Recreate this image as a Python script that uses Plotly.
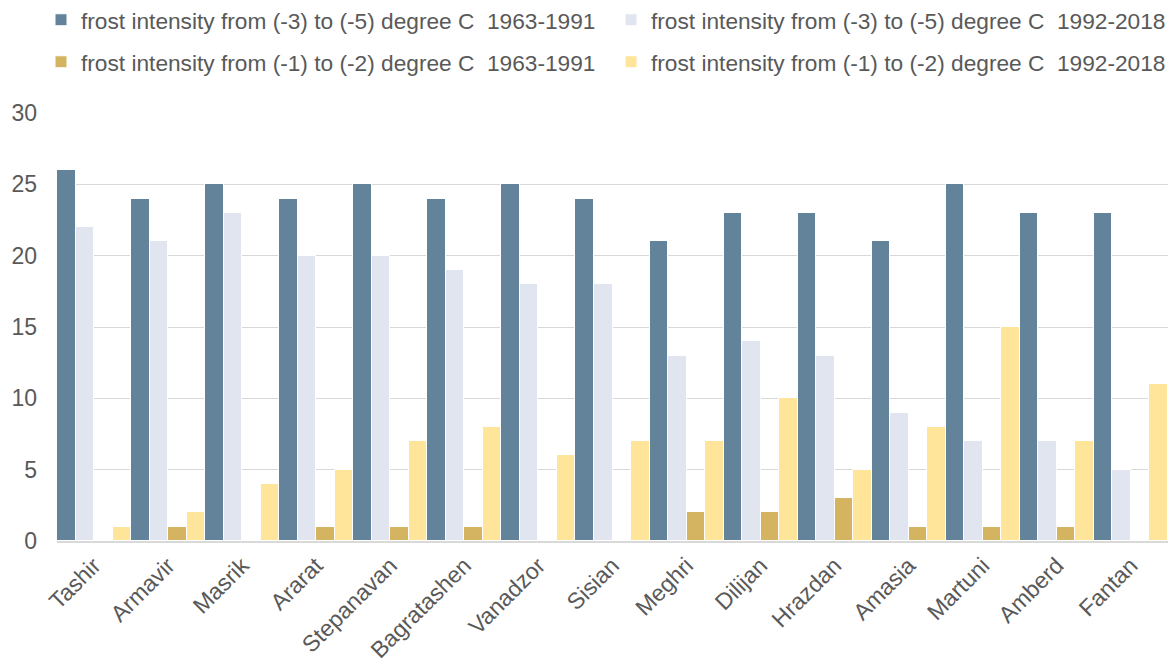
import plotly.graph_objects as go

stations = ["Tashir", "Armavir", "Masrik", "Ararat", "Stepanavan", "Bagratashen",
            "Vanadzor", "Sisian", "Meghri", "Dilijan", "Hrazdan", "Amasia",
            "Martuni", "Amberd", "Fantan"]

strong_1963_1991 = [26, 24, 25, 24, 25, 24, 25, 24, 21, 23, 23, 21, 25, 23, 23]
strong_1992_2018 = [22, 21, 23, 20, 20, 19, 18, 18, 13, 14, 13, 9, 7, 7, 5]
mild_1963_1991 = [0, 1, 0, 1, 1, 1, 0, 0, 2, 2, 3, 1, 1, 1, 0]
mild_1992_2018 = [1, 2, 4, 5, 7, 8, 6, 7, 7, 10, 5, 8, 15, 7, 11]

# (label, values, colour, legend id, legend left px, legend row centre px)
series = [
    ("frost intensity from (-3) to (-5) degree C  1963-1991", strong_1963_1991, "#63839B", "legend", 41, 20),
    ("frost intensity from (-3) to (-5) degree C  1992-2018", strong_1992_2018, "#E1E5F0", "legend2", 611, 20),
    ("frost intensity from (-1) to (-2) degree C  1963-1991", mild_1963_1991, "#D4B460", "legend3", 41, 62),
    ("frost intensity from (-1) to (-2) degree C  1992-2018", mild_1992_2018, "#FFE599", "legend4", 611, 62),
]

W, H = 1175, 670
FONT = "Liberation Sans, Arial, sans-serif"
GREY = "#595959"
SIZE = 23

fig = go.Figure()
legends = {}
for name, vals, color, leg, lx, ly in series:
    fig.add_trace(go.Bar(
        x=stations, y=vals, name=name, showlegend=True,
        marker=dict(color=color, line=dict(color="white", width=1)),
        legend=leg,
    ))
    legends[leg] = dict(
        orientation="h", xanchor="left", yanchor="middle",
        xref="container", yref="container",
        x=lx / W, y=1 - ly / H,
        font=dict(family=FONT, size=22.7, color=GREY),
        itemwidth=30, bgcolor="rgba(0,0,0,0)",
    )

fig.update_layout(
    width=W, height=H, showlegend=True,
    margin=dict(l=57, r=7, t=113, b=127),
    barmode="group", bargap=0.0, bargroupgap=0.0,
    plot_bgcolor="white", paper_bgcolor="white",
    font=dict(family=FONT, color=GREY),
    xaxis=dict(
        tickangle=-45, tickfont=dict(size=SIZE, color=GREY),
        showline=True, linecolor="#D9D9D9", linewidth=2,
        ticks="", showgrid=False,
    ),
    yaxis=dict(
        range=[0, 30], dtick=5, tickfont=dict(size=SIZE, color=GREY),
        showgrid=True, gridcolor="#D9D9D9", gridwidth=1,
        zeroline=False, ticks="", ticklabelstandoff=19,
    ),
    **legends,
)

fig.write_html("out.html")
